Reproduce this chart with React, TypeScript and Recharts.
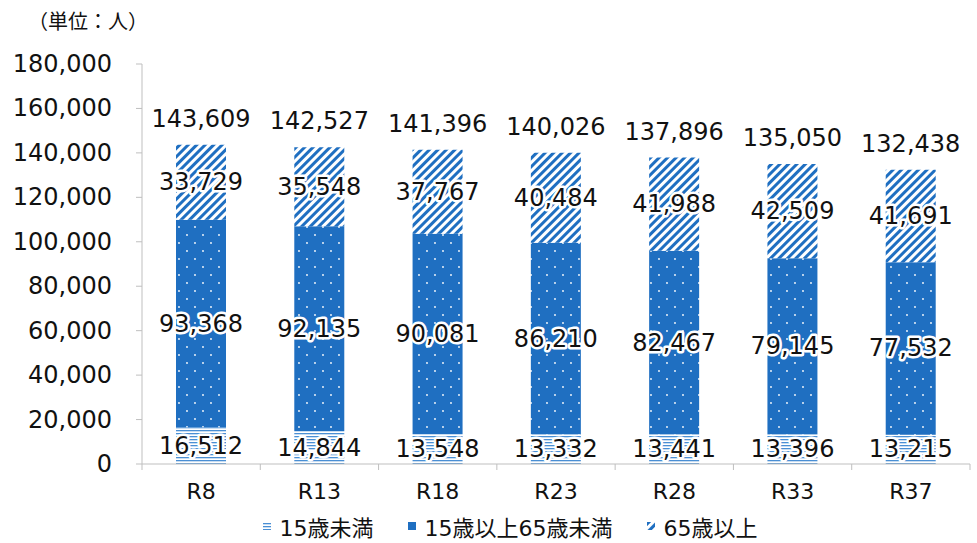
import React from 'react';
import { BarChart, Bar, XAxis, YAxis, Legend, LabelList } from 'recharts';

const categories = ['R8', 'R13', 'R18', 'R23', 'R28', 'R33', 'R37'];
const under15 = [16512, 14844, 13548, 13332, 13441, 13396, 13215];
const working = [93368, 92135, 90081, 86210, 82467, 79145, 77532];
const elderly = [33729, 35548, 37767, 40484, 41988, 42509, 41691];
const totals = [143609, 142527, 141396, 140026, 137896, 135050, 132438];
const yTicks = [0, 20000, 40000, 60000, 80000, 100000, 120000, 140000, 160000, 180000];
const seriesNames = ['15歳未満', '15歳以上65歳未満', '65歳以上'];

const data = categories.map((c, i) => ({
  name: c,
  under15: under15[i],
  working: working[i],
  elderly: elderly[i],
  total: totals[i],
}));

const FONT = '"DejaVu Sans", "Noto Sans CJK JP", sans-serif';
const BLUE = '#1f6fc1';
const AXIS = '#bfbfbf';
const TXT = '#111';

const fmt = (v: number) => v.toLocaleString('en-US');

const SegLabel = (props: any) => {
  const { x, y, width, height, value } = props;
  return (
    <text
      x={x + width / 2}
      y={y + height / 2}
      textAnchor="middle"
      dominantBaseline="central"
      fontSize={24}
      fontFamily={FONT}
      fill={TXT}
      stroke="#ffffff"
      strokeWidth={5}
      strokeLinejoin="round"
      paintOrder="stroke"
    >
      {fmt(value)}
    </text>
  );
};

const TotalLabel = (props: any) => {
  const { x, y, width, index } = props;
  return (
    <text
      x={x + width / 2}
      y={y - 26}
      textAnchor="middle"
      dominantBaseline="central"
      fontSize={24}
      fontFamily={FONT}
      fill={TXT}
    >
      {fmt(totals[index])}
    </text>
  );
};

const XTick = (props: any) => {
  const { x, y, payload, width, visibleTicksCount, index } = props;
  const band = width / visibleTicksCount;
  const left = x - band / 2;
  const right = x + band / 2;
  return (
    <g>
      <line x1={left} x2={left} y1={y} y2={y + 6} stroke={AXIS} />
      {index === visibleTicksCount - 1 && (
        <line x1={right} x2={right} y1={y} y2={y + 6} stroke={AXIS} />
      )}
      <text
        x={x}
        y={y + 27}
        textAnchor="middle"
        dominantBaseline="central"
        fontSize={22}
        fontFamily={FONT}
        fill={TXT}
      >
        {payload.value}
      </text>
    </g>
  );
};

const YTick = (props: any) => {
  const { x, y, payload } = props;
  return (
    <text
      x={x}
      y={y}
      textAnchor="end"
      dominantBaseline="central"
      fontSize={24}
      fontFamily={FONT}
      fill={TXT}
    >
      {fmt(payload.value)}
    </text>
  );
};

const LegendContent = () => {
  const fills = ['url(#patH)', BLUE, 'url(#patD)'];
  return (
    <div
      style={{
        display: 'flex',
        justifyContent: 'center',
        alignItems: 'center',
        fontFamily: FONT,
        fontSize: 22,
        color: TXT,
        gap: 34,
        paddingLeft: 50,
        height: 34,
      }}
    >
      {seriesNames.map((n, i) => (
        <div key={n} style={{ display: 'flex', alignItems: 'center' }}>
          <svg width={8} height={8} style={{ marginRight: 9 }}>
            <rect x={0} y={0} width={8} height={8} fill={fills[i]} />
          </svg>
          <span>{n}</span>
        </div>
      ))}
    </div>
  );
};

export default function App() {
  return (
    <div style={{ position: 'absolute', left: 0, top: 0, width: 977, height: 543, background: '#fff' }}>
      <div
        style={{
          position: 'absolute',
          left: 28,
          top: 6,
          fontFamily: '"Noto Sans CJK JP", sans-serif',
          fontSize: 20,
          color: TXT,
          zIndex: 2,
        }}
      >
        （単位：人）
      </div>
      <BarChart
        width={977}
        height={543}
        data={data}
        margin={{ top: 64, right: 7, left: 0, bottom: 0 }}
        barSize={50}
      >
        <defs>
          <pattern id="patH" width={6} height={3} patternUnits="userSpaceOnUse">
            <rect width={6} height={3} fill="#ffffff" />
            <rect y={1} width={6} height={1.3} fill="#4a8fd4" />
          </pattern>
          <pattern id="patDots" width={16} height={16} patternUnits="userSpaceOnUse">
            <rect width={16} height={16} fill={BLUE} />
            <circle cx={3} cy={3} r={0.9} fill="#ffffff" />
            <circle cx={11} cy={11} r={0.9} fill="#ffffff" />
          </pattern>
          <pattern
            id="patD"
            width={6}
            height={6}
            patternUnits="userSpaceOnUse"
            patternTransform="rotate(45)"
          >
            <rect width={6} height={6} fill="#ffffff" />
            <rect x={0} y={0} width={3} height={6} fill={BLUE} />
          </pattern>
        </defs>
        <XAxis
          dataKey="name"
          axisLine={{ stroke: AXIS }}
          tickLine={false}
          tickSize={0}
          tickMargin={0}
          height={45}
          tick={<XTick />}
          interval={0}
        />
        <YAxis
          width={142}
          domain={[0, 180000]}
          ticks={yTicks}
          interval={0}
          axisLine={{ stroke: AXIS }}
          tickLine={{ stroke: AXIS }}
          tickSize={6}
          tickMargin={24}
          tick={<YTick />}
        />
        <Legend verticalAlign="bottom" height={34} content={<LegendContent />} />
        <Bar dataKey="under15" name={seriesNames[0]} stackId="s" fill="url(#patH)" isAnimationActive={false}>
          <LabelList dataKey="under15" content={<SegLabel />} />
        </Bar>
        <Bar dataKey="working" name={seriesNames[1]} stackId="s" fill="url(#patDots)" isAnimationActive={false}>
          <LabelList dataKey="working" content={<SegLabel />} />
        </Bar>
        <Bar dataKey="elderly" name={seriesNames[2]} stackId="s" fill="url(#patD)" isAnimationActive={false}>
          <LabelList dataKey="elderly" content={<SegLabel />} />
          <LabelList dataKey="total" content={<TotalLabel />} />
        </Bar>
      </BarChart>
    </div>
  );
}
